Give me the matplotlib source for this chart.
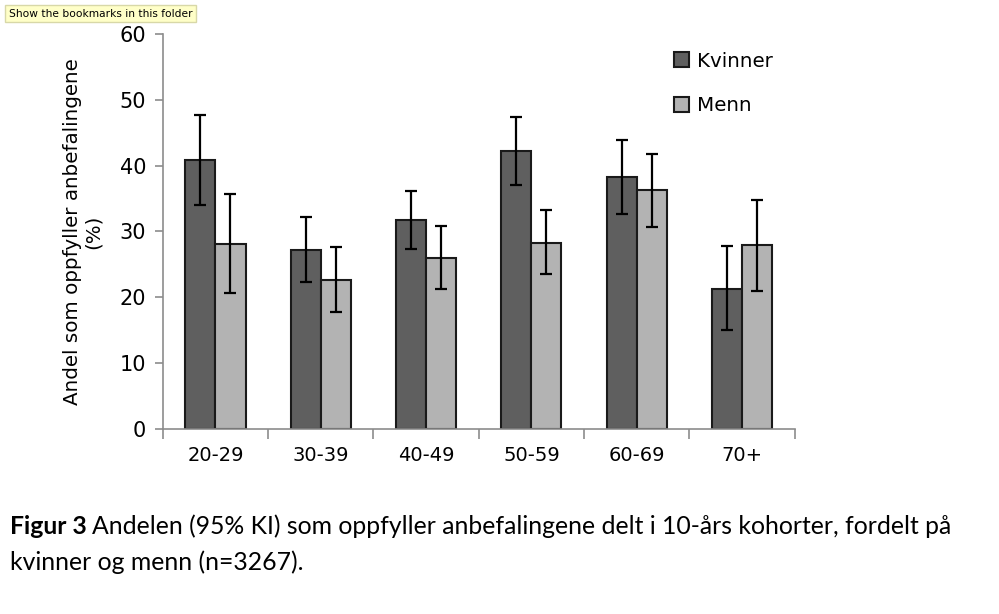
import matplotlib.pyplot as plt
import numpy as np

# data
ages = ['20-29', '30-39', '40-49', '50-59', '60-69', '70+']
kvinner = [40.9, 27.2, 31.8, 42.2, 38.3, 21.3]
kvinner_lo = [34.0, 22.3, 27.4, 37.1, 32.6, 15.0]
kvinner_hi = [47.7, 32.2, 36.2, 47.4, 43.9, 27.8]
menn = [28.1, 22.6, 26.0, 28.3, 36.3, 27.9]
menn_lo = [20.6, 17.8, 21.2, 23.6, 30.7, 20.9]
menn_hi = [35.7, 27.6, 30.9, 33.2, 41.8, 34.8]

dark = '#5f5f5f'
light = '#b3b3b3'
edge = '#1a1a1a'
axis_col = '#8c8c8c'

fig = plt.figure(figsize=(9.99, 6.14), dpi=100)
ax = fig.add_axes([0.163, 0.301, 0.6325, 0.644])

x = np.arange(len(ages))
w = 0.285
k_err = [np.array(kvinner) - np.array(kvinner_lo), np.array(kvinner_hi) - np.array(kvinner)]
m_err = [np.array(menn) - np.array(menn_lo), np.array(menn_hi) - np.array(menn)]

ax.bar(x - w / 2, kvinner, w, color=dark, edgecolor=edge, linewidth=1.5, label='Kvinner', zorder=2)
ax.bar(x + w / 2, menn, w, color=light, edgecolor=edge, linewidth=1.5, label='Menn', zorder=2)
ax.errorbar(x - w / 2, kvinner, yerr=k_err, fmt='none', ecolor='black', elinewidth=1.6,
            capsize=4, capthick=1.6, zorder=3)
ax.errorbar(x + w / 2, menn, yerr=m_err, fmt='none', ecolor='black', elinewidth=1.6,
            capsize=4, capthick=1.6, zorder=3)

ax.set_xlim(-0.5, len(ages) - 0.5)
ax.set_ylim(0, 60)
ax.set_yticks(range(0, 61, 10))
ax.set_xticks(x)
ax.set_xticklabels(ages)
ax.set_xticks(np.arange(-0.5, len(ages)), minor=True)
ax.tick_params(axis='x', which='major', length=0, pad=12, labelsize=14)
ax.tick_params(axis='x', which='minor', length=7, color=axis_col, width=1.2)
ax.tick_params(axis='y', length=6, color=axis_col, width=1.2, labelsize=15, pad=6)

for s in ['top', 'right']:
    ax.spines[s].set_visible(False)
for s in ['left', 'bottom']:
    ax.spines[s].set_color(axis_col)
    ax.spines[s].set_linewidth(1.2)

ax.set_ylabel('Andel som oppfyller anbefalingene\n(%)', fontsize=14.3, labelpad=12, linespacing=1.1)

ax.legend(loc='upper left', bbox_to_anchor=(0.78, 1.0), frameon=False, fontsize=14.3,
          handlelength=0.8, handleheight=0.8, handletextpad=0.4, labelspacing=1.3)

# tooltip from the screenshot
fig.text(0.009, 0.978, 'Show the bookmarks in this folder', fontsize=7.7, va='center', ha='left',
         bbox=dict(boxstyle='square,pad=0.35', facecolor='#ffffc8', edgecolor='#d8d8a8'))

# caption: bold "Figur 3" then regular text
r = fig.canvas.get_renderer()
cap_y1 = 1 - 526 / 614
cap_y2 = 1 - 562 / 614
t1 = fig.text(10 / 999, cap_y1, 'Figur 3', fontsize=17.8, fontweight='bold', family='Lato', va='center')
bb = t1.get_window_extent(renderer=r)
fig.text((bb.x1 + 5) / 999, cap_y1,
         'Andelen (95% KI) som oppfyller anbefalingene delt i 10-års kohorter, fordelt på',
         fontsize=17.8, family='Lato', va='center')
fig.text(10 / 999, cap_y2, 'kvinner og menn (n=3267).', fontsize=17.8, family='Lato', va='center')

fig.savefig('out.png', dpi=100)
